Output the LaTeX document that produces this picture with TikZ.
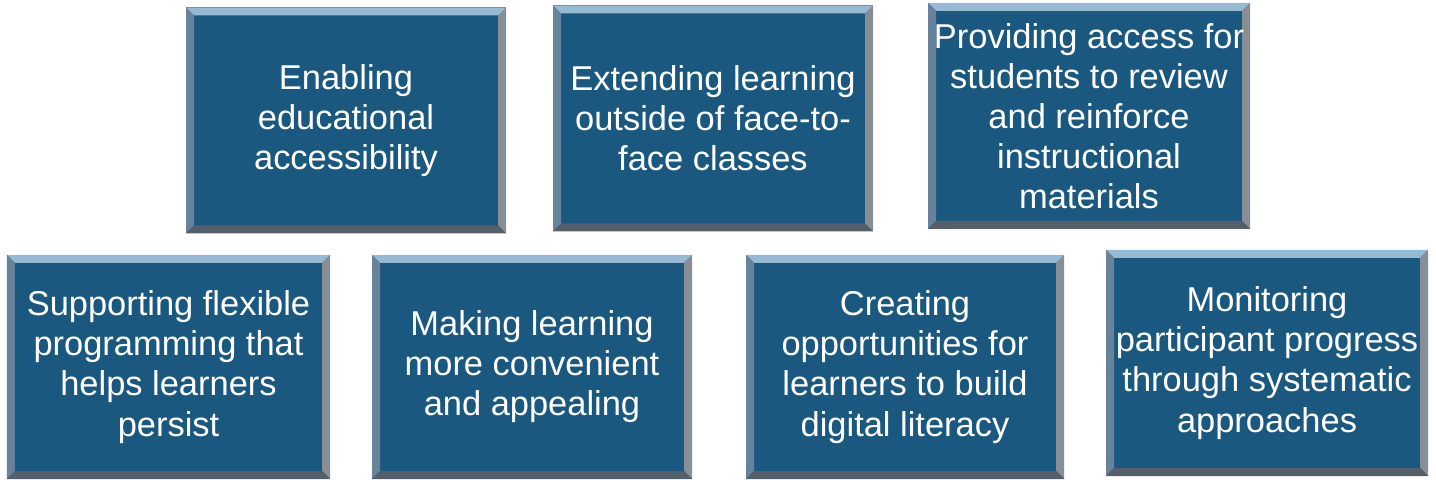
\documentclass[tikz,border=0pt]{standalone}
\usepackage{fontspec}
\setmainfont{Liberation Sans}
\usetikzlibrary{calc, math}
\definecolor{tileblue}{RGB}{26,88,128}
\definecolor{tiletop}{RGB}{150,185,212}
\definecolor{tileleft}{RGB}{105,130,155}
\definecolor{tileright}{RGB}{135,142,150}
\definecolor{tilebottom}{RGB}{85,95,105}
\begin{document}
\begin{tikzpicture}[
  tile/.style={fill=tileblue, minimum width=6.4cm, minimum height=4.52cm,
    inner sep=0pt, align=center, text=white,
    font=\fontsize{19.6}{22.8}\selectfont,
    path picture={
      \coordinate (nw) at (path picture bounding box.north west);
      \coordinate (ne) at (path picture bounding box.north east);
      \coordinate (sw) at (path picture bounding box.south west);
      \coordinate (se) at (path picture bounding box.south east);
      \fill[tiletop] (nw) -- (ne) -- ($(ne)+(-\bv,-\bv)$) -- ($(nw)+(\bv,-\bv)$) -- cycle;
      \fill[tileleft] (nw) -- (sw) -- ($(sw)+(\bv,\bv)$) -- ($(nw)+(\bv,-\bv)$) -- cycle;
      \fill[tileright] (ne) -- (se) -- ($(se)+(-\bv,\bv)$) -- ($(ne)+(-\bv,-\bv)$) -- cycle;
      \fill[tilebottom] (sw) -- (se) -- ($(se)+(-\bv,\bv)$) -- ($(sw)+(\bv,\bv)$) -- cycle;
    }}
]
\tikzmath{
\bv=0.16;
\W=28.72;
\H=9.58;
}
\useasboundingbox (0,0) rectangle (\W,\H);

%top row
\node[tile] (access) at (6.92,7.17) {Enabling\\educational\\accessibility};
\node[tile] (extend) at (14.26,7.21) {Extending learning\\outside of face-to-\\face classes};
\node[tile, minimum width=6.44cm] (review) at (21.78,7.26) {Providing access for\\students to review\\and reinforce\\instructional\\materials};

%bottom row
\node[tile, minimum width=6.46cm, minimum height=4.48cm] (flexible) at (3.37,2.24) {Supporting flexible\\programming that\\helps learners\\persist};
\node[tile, minimum height=4.48cm] (convenient) at (10.64,2.24) {Making learning\\more convenient\\and appealing};
\node[tile, minimum width=6.36cm, minimum height=4.48cm] (literacy) at (18.1,2.24) {Creating\\opportunities for\\learners to build\\digital literacy};
\node[tile, minimum width=6.44cm] (progress) at (25.34,2.32) {Monitoring\\participant progress\\through systematic\\approaches};
\end{tikzpicture}
\end{document}
